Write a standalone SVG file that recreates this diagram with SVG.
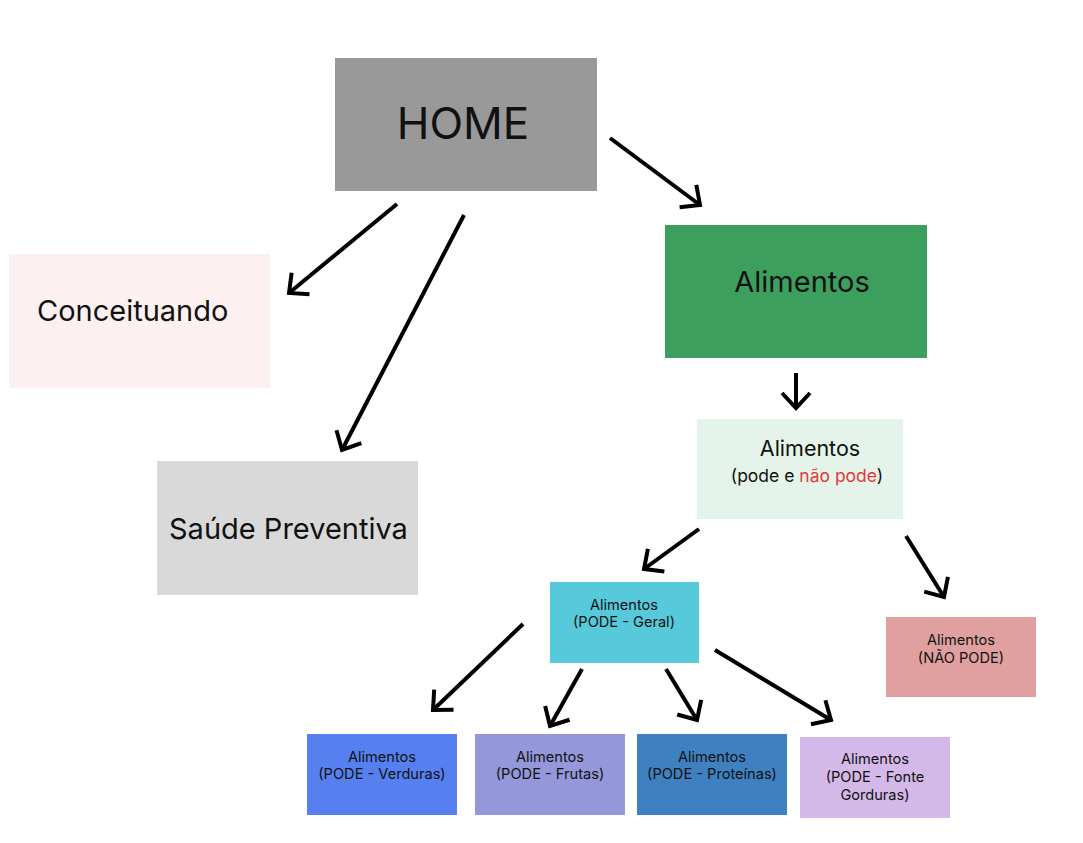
<svg xmlns="http://www.w3.org/2000/svg" width="1083" height="843" viewBox="0 0 1083 843">
<defs>
<style>
text{font-family:Inter,"Noto Sans","Liberation Sans",sans-serif;fill:#111;text-anchor:middle}
.big{font-size:44px}
.mid{font-size:29px}
.md2{font-size:21.5px}
.sm{font-size:17.5px}
.xs{font-size:14.6px}
.red{fill:#e53935}
.conn line{stroke:#000;stroke-width:4;marker-end:url(#ah)}
</style>
<marker id="ah" markerUnits="userSpaceOnUse" markerWidth="40" markerHeight="40" viewBox="-20 -20 40 40" refX="0" refY="0" orient="auto" overflow="visible">
<path d="M-15,-14 L0,0 L-15,14" fill="none" stroke="#000" stroke-width="4" stroke-linejoin="miter"/>
</marker>
</defs>
<rect width="1083" height="843" fill="#fff"/>
<g id="home"><rect x="335" y="58" width="262" height="133" fill="#999999"/><text class="big" x="463" y="139">HOME</text></g>
<g id="conceituando"><rect x="9" y="254" width="261" height="134" fill="#fdf0f0"/><text class="mid" x="37" y="321" style="text-anchor:start">Conceituando</text></g>
<g id="saude"><rect x="157" y="461" width="261" height="134" fill="#d9d9d9"/><text class="mid" x="169" y="539" style="text-anchor:start">Saúde Preventiva</text></g>
<g id="alimentos"><rect x="665" y="225" width="262" height="133" fill="#3d9f5e"/><text class="mid" x="802" y="292">Alimentos</text></g>
<g id="alimentos-pode-nao"><rect x="697" y="419" width="206" height="100" fill="#e5f4ea"/><text class="md2" x="810" y="456">Alimentos</text><text class="sm" x="807" y="482">(pode e <tspan class="red">não pode</tspan>)</text></g>
<g id="pode-geral"><rect x="550" y="582" width="149" height="81" fill="#56c9da"/><text class="xs" x="624" y="610">Alimentos</text><text class="xs" x="624" y="627">(PODE - Geral)</text></g>
<g id="nao-pode"><rect x="886" y="617" width="150" height="80" fill="#e0a0a0"/><text class="xs" x="961" y="645">Alimentos</text><text class="xs" x="961" y="663">(NÃO PODE)</text></g>
<g id="verduras"><rect x="307" y="734" width="150" height="81" fill="#5680ef"/><text class="xs" x="382" y="762">Alimentos</text><text class="xs" x="382" y="779">(PODE - Verduras)</text></g>
<g id="frutas"><rect x="475" y="734" width="150" height="81" fill="#9497d9"/><text class="xs" x="550" y="762">Alimentos</text><text class="xs" x="550" y="779">(PODE - Frutas)</text></g>
<g id="proteinas"><rect x="637" y="734" width="150" height="81" fill="#3f80c0"/><text class="xs" x="712" y="762">Alimentos</text><text class="xs" x="712" y="779">(PODE - Proteínas)</text></g>
<g id="gorduras"><rect x="800" y="737" width="150" height="81" fill="#d4b8e8"/><text class="xs" x="875" y="764">Alimentos</text><text class="xs" x="875" y="782">(PODE - Fonte</text><text class="xs" x="875" y="800">Gorduras)</text></g>
<g id="connectors" class="conn">
<line x1="610" y1="138" x2="700" y2="205"/>
<line x1="397" y1="204" x2="289" y2="293"/>
<line x1="464" y1="215" x2="342" y2="450"/>
<line x1="796" y1="373" x2="796" y2="408"/>
<line x1="699" y1="529" x2="644" y2="569"/>
<line x1="906" y1="536" x2="944" y2="597"/>
<line x1="523" y1="624" x2="433" y2="710"/>
<line x1="582" y1="669" x2="550" y2="726"/>
<line x1="666" y1="669" x2="697" y2="720"/>
<line x1="715" y1="650" x2="831" y2="720"/>
</g>
</svg>
